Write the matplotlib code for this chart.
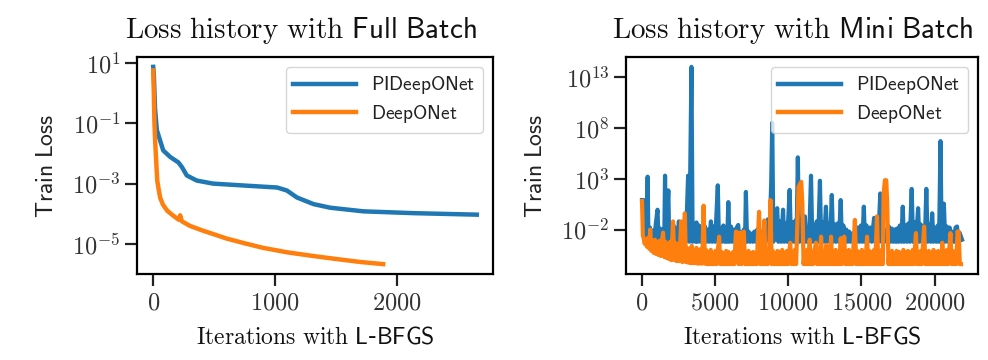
import matplotlib
matplotlib.use("Agg")
import matplotlib.pyplot as plt
from matplotlib.ticker import FuncFormatter, NullLocator
import numpy as np

plt.rcParams['mathtext.fontset'] = 'cm'

# ---- Full batch: (iteration, log10 train loss)
full_pi = [(0, 0.87), (5, 0.6), (15, -0.5), (25, -1.0), (30, -1.23), (82, -1.9),
           (140, -2.12), (207, -2.3), (235, -2.45), (275, -2.73), (357, -2.9),
           (490, -3.0), (768, -3.07), (1016, -3.13), (1096, -3.23), (1178, -3.46),
           (1314, -3.68), (1451, -3.8), (1724, -3.92), (2134, -3.98), (2653, -4.03)]
full_deep = [(0, 0.75), (5, 0.0), (10, -1.0), (16, -1.6), (25, -2.3), (33, -2.9),
             (45, -3.2), (57, -3.47), (80, -3.7), (115, -3.9), (160, -4.05),
             (210, -4.2), (221, -4.05), (235, -4.25), (300, -4.4), (400, -4.55),
             (490, -4.67), (600, -4.82), (750, -4.98), (900, -5.13), (1100, -5.28),
             (1311, -5.4), (1500, -5.5), (1700, -5.6), (1885, -5.67)]

# ---- Mini batch: (iteration, log10 train loss), noisy bands + spikes
mini_pi = [
    (0, 0.9), (120, 0.9), (200, -2.2), (300, -3.2), (385, 3.2), (440, -3.2),
    (540, -1.8), (640, -3.2), (740, -2.1), (840, -3.2), (940, -1.5), (1060, -0.05),
    (1140, -3.2), (1240, -1.9), (1340, -3.2), (1440, -2.0), (1520, -3.2), (1575, 3.3),
    (1640, -3.2), (1800, 1.85), (1860, -3.2), (1960, -1.7), (2060, -3.2), (2160, -1.6),
    (2260, -3.2), (2360, -1.9), (2440, -3.2), (2520, -1.2), (2600, -3.2), (2700, -1.6),
    (2800, -3.2), (2900, -1.9), (3000, -3.2), (3150, 3.3), (3240, -3.2), (3380, 14.0),
    (3460, -3.2), (3560, -1.8), (3660, -3.2), (3720, -1.3), (3800, -3.2), (3900, -1.6),
    (4000, -3.2), (4100, -1.9), (4200, -3.2), (4300, -1.7), (4400, -3.2), (4500, -2.0),
    (4600, -3.2), (4710, -1.2), (4800, -3.2), (4900, -1.7), (5000, -3.2), (5180, 2.35),
    (5260, -3.2), (5360, -1.9), (5460, -3.2), (5560, -1.6), (5660, -3.2), (5760, -2.0),
    (5820, -3.2), (5900, 0.7), (5980, -3.2), (6080, -1.7), (6180, -3.2), (6280, -2.0),
    (6380, -3.2), (6480, -1.8), (6575, -1.55), (6660, -3.2), (6760, -2.3), (6860, -3.2),
    (6960, -2.0), (7040, -3.2), (7100, 1.7), (7180, -3.2), (7280, -2.2), (7380, -3.2),
    (7480, -2.4), (7580, -3.2), (7680, -2.2), (7780, -3.2), (7880, -2.0), (7980, -3.2),
    (8080, -2.3), (8180, -3.2), (8330, -1.9), (8420, -3.2), (8600, -1.0), (8700, -3.2),
    (8830, 2.6), (8900, 8.5), (8980, -3.2), (9100, -1.5), (9240, 0.1), (9320, -3.2),
    (9420, -1.2), (9520, -3.2), (9640, -0.05), (9720, -3.2), (9820, -1.4), (9920, -3.2),
    (10090, 1.9), (10180, -3.2), (10300, -1.3), (10400, -3.2), (10500, -1.1), (10560, -3.2),
    (10650, 5.1), (10740, -3.2), (10840, -1.0), (10940, -3.2), (11040, -1.5), (11130, -0.7),
    (11220, -3.2), (11320, -1.8), (11420, -3.2), (11550, 3.3), (11640, -3.2), (11740, -1.6),
    (11840, -3.2), (11940, -1.2), (12040, -3.2), (12160, 2.8), (12240, -3.2), (12340, -1.3),
    (12440, -3.2), (12570, 0.25), (12660, -3.2), (12760, -1.4), (12860, -3.2), (12970, 1.4),
    (13060, -3.2), (13160, -1.5), (13260, -3.2), (13360, -1.4), (13460, -3.2), (13580, 0.9),
    (13660, -3.2), (13760, -1.6), (13860, -3.2), (13960, -2.0), (14060, -3.2), (14160, -2.2),
    (14260, -3.2), (14360, -2.4), (14460, -3.2), (14560, -2.0), (14660, -3.2), (14760, -1.8),
    (14860, -3.2), (14960, -1.6), (15060, -3.2), (15160, 0.25), (15240, -3.2), (15340, -1.6),
    (15440, -3.2), (15600, -1.8), (15700, -3.2), (15860, -0.85), (15940, -3.2), (16040, -1.8),
    (16140, -3.2), (16285, 1.55), (16370, -3.2), (16470, -1.8), (16570, -3.2), (16670, -2.0),
    (16770, -3.2), (16870, -1.7), (16970, -3.2), (17070, -1.9), (17170, -3.2), (17270, -2.0),
    (17350, -3.2), (17430, -1.9), (17520, -3.2), (17620, -1.6), (17720, -3.2), (17820, 0.25),
    (17900, -3.2), (18000, -1.6), (18100, -3.2), (18200, -1.4), (18300, -3.2), (18430, 2.0),
    (18520, -3.2), (18620, -1.3), (18720, -3.2), (18870, 0.1), (18950, -3.2), (19050, -1.5),
    (19150, -3.2), (19250, -1.7), (19330, -3.2), (19430, 2.0), (19520, -3.2), (19630, -1.5),
    (19730, -3.2), (19830, -0.4), (19920, -3.2), (20020, -1.8), (20120, -3.2), (20220, -1.6),
    (20300, -3.2), (20400, 6.7), (20480, -3.2), (20630, 0.55), (20720, -3.2), (20820, -1.7),
    (20920, -3.2), (21020, -1.8), (21120, -3.2), (21220, -2.2), (21320, -3.2), (21430, -1.8),
    (21530, -1.7), (21620, -3.2), (21700, -2.3), (21870, -3.0)]

mini_deep = [
    (0, 0.8), (60, -2.6), (120, -2.9), (180, -3.4), (260, -3.0), (340, -3.7), (420, -2.8),
    (500, -3.9), (560, -2.0), (640, -4.1), (720, -3.1), (800, -4.3), (880, -3.0), (960, -4.4),
    (1040, -3.2), (1120, -4.5), (1200, -3.1), (1280, -4.6), (1360, -3.3), (1440, -2.3),
    (1520, -4.7), (1600, -3.2), (1680, -4.8), (1760, -3.4), (1840, -4.9), (1920, -3.2),
    (2000, -5.0), (2120, -1.2), (2200, -5.0), (2280, -3.3), (2360, -5.1), (2440, -3.4),
    (2520, -5.1), (2600, -3.6), (2680, -1.2), (2760, -5.2), (2840, -3.3), (2930, -0.4),
    (3000, -5.2), (3080, -3.8), (3160, -5.25), (3240, -3.9), (3320, -5.3), (3400, -3.6),
    (3480, -5.3), (3560, -4.0), (3640, -5.3), (3720, -3.8), (3800, -5.35), (3880, -4.0),
    (3960, -5.35), (4040, -3.9), (4120, -5.35), (4210, 0.35), (4300, -5.35), (4380, -4.0),
    (4460, -5.4), (4540, -4.2), (4620, -5.4), (4700, -4.0), (4780, -5.4), (4860, -4.3),
    (4940, -5.4), (5020, -4.1), (5100, -5.4), (5270, -2.7), (5350, -5.4), (5430, -4.2),
    (5510, -5.4), (5590, -4.3), (5670, -5.4), (5750, -4.1), (5830, -5.4), (5910, -4.2),
    (5990, -5.4), (6070, -4.4), (6150, -5.4), (6230, -4.2), (6310, -5.4), (6420, -2.2),
    (6520, -2.3), (6600, -5.4), (6700, -2.3), (6800, -5.4), (6960, -2.2), (7040, -5.4),
    (7120, -4.3), (7200, -5.4), (7280, -4.1), (7360, -5.4), (7440, -4.3), (7520, -5.4),
    (7600, -4.2), (7680, -5.4), (7760, -4.4), (7840, -5.4), (8000, -0.25), (8080, -5.4),
    (8160, -4.1), (8240, -5.4), (8360, -1.1), (8440, -5.4), (8520, -4.2), (8600, -5.4),
    (8700, -3.8), (8780, 0.9), (8860, -5.4), (8940, -4.1), (9020, -5.4), (9100, -4.3),
    (9180, -5.4), (9260, -4.1), (9340, -5.4), (9420, -4.2), (9500, -5.4), (9580, -4.0),
    (9660, -5.4), (9740, -4.3), (9820, -5.4), (9900, -4.1), (9980, -5.4), (10130, -3.3),
    (10210, -5.4), (10290, -4.2), (10370, -5.4), (10450, -4.0), (10530, -5.4), (10700, 2.2),
    (10880, 2.7), (10960, 0.5), (11040, -5.4), (11120, -4.2), (11200, -5.4), (11280, -4.0),
    (11360, -5.4), (11460, -3.0), (11540, -5.4), (11620, -4.2), (11700, -5.4), (11780, -4.1),
    (11890, -3.3), (11970, -5.4), (12050, -4.2), (12130, -5.4), (12240, -2.7), (12320, -5.4),
    (12400, -4.3), (12480, -5.4), (12600, -3.5), (12680, -5.4), (12760, -4.1), (12840, -5.4),
    (12920, -2.7), (13000, -5.4), (13080, -4.2), (13160, -5.4), (13240, -4.0), (13320, -5.4),
    (13400, -4.3), (13480, -5.4), (13580, -2.85), (13660, -5.4), (13740, -4.1), (13820, -2.7),
    (13900, -5.4), (13980, -4.2), (14060, -5.4), (14140, -4.0), (14220, -5.4), (14300, -4.3),
    (14380, -5.4), (14550, -1.05), (14630, -5.4), (14710, -4.1), (14790, -5.4), (14870, -4.2),
    (14950, -5.4), (15030, -4.0), (15110, -5.4), (15190, -4.3), (15270, -5.4), (15380, -2.7),
    (15460, -5.4), (15540, -4.1), (15620, -5.4), (15700, -4.2), (15780, -5.4), (15860, -4.0),
    (15940, -5.4), (16060, -0.7), (16140, -5.4), (16220, -4.2), (16300, -5.4), (16380, -4.0),
    (16460, -5.4), (16510, 1.5), (16600, 2.85), (16690, 2.85), (16760, 0.6), (16840, -5.4),
    (16920, -4.2), (17000, -5.4), (17080, -4.1), (17160, -5.4), (17240, -4.3), (17320, -5.4),
    (17400, -4.1), (17480, -5.4), (17560, -4.2), (17640, -5.4), (17700, -4.3), (17780, -5.4),
    (17860, -4.0), (17940, -5.4), (18020, -4.2), (18100, -5.4), (18180, -4.1), (18260, -5.4),
    (18340, -4.3), (18420, -5.4), (18500, -4.0), (18580, -5.4), (18720, -2.35), (18800, -5.4),
    (18880, -4.2), (18960, -5.4), (19040, -4.1), (19120, -5.4), (19280, -1.7), (19360, -5.4),
    (19440, -4.2), (19520, -5.4), (19600, -4.1), (19680, -5.4), (19760, -4.3), (19840, -5.4),
    (19920, -4.0), (20000, -5.4), (20080, -4.2), (20160, -5.4), (20240, -4.1), (20320, -5.4),
    (20400, -4.3), (20480, -5.4), (20520, -3.3), (20600, -5.4), (20680, -4.2), (20760, -5.4),
    (20840, -4.0), (20920, -5.4), (21080, -2.35), (21160, -5.4), (21240, -4.1), (21320, -5.4),
    (21400, -4.2), (21480, -5.4), (21560, -2.2), (21640, -2.2), (21720, -5.4), (21800, -5.4)]

labels = [r'$\mathsf{PIDeepONet}$', r'$\mathsf{DeepONet}$']
titles = [r'$\mathrm{Loss\ history\ with}\ \mathsf{Full\ Batch}$',
          r'$\mathrm{Loss\ history\ with}\ \mathsf{Mini\ Batch}$']
full_xticks = [0, 1000, 2000]
full_yticks = [1, -1, -3, -5]
mini_xticks = [0, 5000, 10000, 15000, 20000]
mini_yticks = [13, 8, 3, -2]

fig = plt.figure(figsize=(9.88, 3.6), dpi=100)
ax1 = fig.add_axes([0.1387, 0.2389, 0.3603, 0.6028])
ax2 = fig.add_axes([0.6336, 0.2389, 0.3563, 0.6028])


def draw(ax, pi, deep, xticks, yticks, title, title_x, lw):
    x, y = zip(*pi)
    ax.plot(x, 10.0 ** np.array(y), color='#1f77b4', lw=lw, label=labels[0])
    x, y = zip(*deep)
    ax.plot(x, 10.0 ** np.array(y), color='#ff7f0e', lw=lw, label=labels[1])
    ax.set_yscale('log')
    ax.set_yticks([10.0 ** k for k in yticks])
    ax.yaxis.set_minor_locator(NullLocator())
    ax.yaxis.set_major_formatter(FuncFormatter(lambda v, p: r'$10^{%d}$' % round(np.log10(v))))
    ax.set_xticks(xticks)
    ax.xaxis.set_major_formatter(FuncFormatter(lambda v, p: r'$%d$' % v))
    ax.tick_params(labelsize=17.5, length=8.5, width=1.6, colors='#222222', labelcolor='#333333')
    for s in ax.spines.values():
        s.set_linewidth(1.6)
    ax.set_title(title, fontsize=21, pad=14, color='#111111', x=title_x)
    ax.set_xlabel(r'$\mathrm{Iterations\ with}\ \mathsf{L}$-$\mathsf{BFGS}$', fontsize=17,
                  labelpad=7, color='#111111')
    ax.set_ylabel(r'$\mathsf{Train\ Loss}$', fontsize=17, labelpad=10, color='#222222')
    leg = ax.legend(loc='upper right', fontsize=14, handlelength=3.2, borderpad=0.4,
                    labelspacing=0.35, framealpha=0.8)
    for h in leg.get_lines():
        h.set_linewidth(3.2)
    for t in leg.get_texts():
        t.set_color('#222222')


draw(ax1, full_pi, full_deep, full_xticks, full_yticks, titles[0], 0.46, 3.2)
draw(ax2, mini_pi, mini_deep, mini_xticks, mini_yticks, titles[1], 0.474, 3.0)

fig.savefig('out.png', dpi=100)
